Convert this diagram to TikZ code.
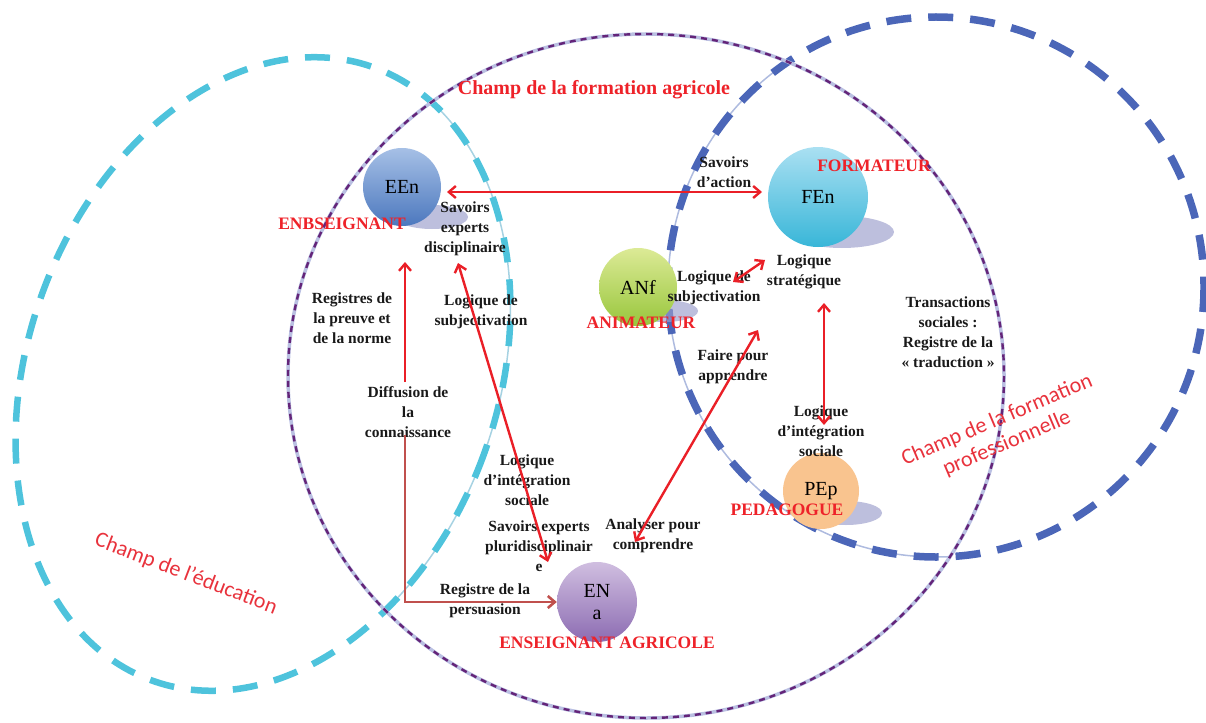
\documentclass[tikz,border=0pt]{standalone}
\usepackage{fontspec}
\setmainfont{Liberation Serif}
\newfontfamily\fieldfont{Carlito}
\usetikzlibrary{arrows.meta}

\definecolor{eduCyan}{HTML}{4EC3DC}
\definecolor{eduLine}{HTML}{A6D2E2}
\definecolor{proBlue}{HTML}{4B66B8}
\definecolor{proLine}{HTML}{AEBBDF}
\definecolor{agriPurple}{HTML}{642479}
\definecolor{agriHalo}{HTML}{BAC0E2}
\definecolor{arrowRed}{HTML}{EA1F27}
\definecolor{elbowRed}{HTML}{C0504D}
\definecolor{roleRed}{HTML}{EE2229}
\definecolor{fieldRed}{HTML}{E8323C}
\definecolor{shadowLav}{HTML}{9A9DCB}

\tikzset{
  sphere/.style={circle, inner sep=0pt, text=black, align=center,
    font=\fontsize{20}{22}\selectfont},
  glow/.style={fill=shadowLav, opacity=0.65},
  role/.style={text=roleRed, inner sep=0pt, font=\bfseries\fontsize{17.5}{20}\selectfont},
  note/.style={align=center, inner sep=0pt, text=black!90,
    font=\bfseries\fontsize{15.5}{20}\selectfont},
  field/.style={text=fieldRed, align=center, inner sep=0pt,
    font=\fieldfont\fontsize{22}{25}\selectfont},
  barb/.tip={Straight Barb[length=7pt,width=12pt]},
  link/.style={draw=arrowRed, line width=2.4pt},
  twoway/.style={link, barb-barb},
  oneway/.style={link, -barb},
  eduRing/.style={rotate around={-20:(263,374)}},
}

\begin{document}
\begin{tikzpicture}[x=1pt,y=-1pt]
\useasboundingbox (0,0) rectangle (1206,722);

% --- thin guide lines of the two outer fields, visible inside the agricultural field
\begin{scope}
  \clip (646,376) ellipse [x radius=358, y radius=342];
  \draw[eduLine, line width=1.5pt, eduRing] (263,374) ellipse [x radius=235, y radius=326];
  \draw[proLine, line width=1.5pt] (936,287) ellipse [x radius=268, y radius=270];
\end{scope}

% --- field of education (tilted cyan ellipse)
\draw[eduCyan, line width=6.5pt, dash pattern=on 25pt off 17pt, eduRing]
  (263,374) ellipse [x radius=235, y radius=326];

% --- field of vocational training (blue circle)
\draw[proBlue, line width=7.5pt, dash pattern=on 25pt off 17pt]
  (936,287) ellipse [x radius=268, y radius=270];

% --- field of agricultural training (purple dotted)
\draw[agriHalo, line width=3.5pt] (646,376) ellipse [x radius=358, y radius=342];
\draw[agriPurple, line width=2.4pt, dash pattern=on 6pt off 5pt]
  (646,376) ellipse [x radius=358, y radius=342];

% --- field titles
\node[text=roleRed, inner sep=0pt, font=\bfseries\fontsize{20}{24}\selectfont]
  (agriTitle) at (594,90) {Champ de la formation agricole};
\node[field, rotate=-21] (eduTitle) at (186,574) {Champ de l’éducation};
\node[field, rotate=23] (proTitle) at (1002,432) {Champ de la formation\\professionnelle};

% --- soft shadows under the spheres
\fill[glow] (432,217) ellipse [x radius=36, y radius=12];
\fill[glow] (842,232) ellipse [x radius=52, y radius=16];
\fill[glow] (664,311) ellipse [x radius=34, y radius=11];
\fill[glow] (846,513) ellipse [x radius=36, y radius=12];

% --- actors
\node[sphere, minimum size=78pt, top color={rgb,255:red,166;green,192;blue,230},
  bottom color={rgb,255:red,76;green,120;blue,190}] (EEn) at (402,187) {EEn};
\node[sphere, minimum size=100pt, top color={rgb,255:red,170;green,224;blue,242},
  bottom color={rgb,255:red,56;green,182;blue,216}] (FEn) at (818,197) {FEn};
\node[sphere, minimum size=78pt, top color={rgb,255:red,220;green,234;blue,150},
  bottom color={rgb,255:red,152;green,198;blue,60}] (ANf) at (638,287) {ANf};
\node[sphere, minimum size=76pt, fill={rgb,255:red,249;green,196;blue,143}] (PEp) at (821,491) {PEp};
\node[sphere, minimum size=80pt, top color={rgb,255:red,208;green,190;blue,224},
  bottom color={rgb,255:red,140;green,108;blue,178}] (ENa) at (597,602) {EN\\a};

% --- role names
\node[role] (rEEn) at (342,224) {ENBSEIGNANT};
\node[role] (rFEn) at (874,166) {FORMATEUR};
\node[role] (rANf) at (641,323) {ANIMATEUR};
\node[role] (rPEp) at (787,510) {PEDAGOGUE};
\node[role] (rENa) at (607,643) {ENSEIGNANT AGRICOLE};

% --- relation labels
\node[note] (disc)  at (465,229) {Savoirs\\experts\\disciplinaire};
\node[note] (preuve) at (352,318) {Registres de\\la preuve et\\de la norme};
\node[note] (subjL) at (481,312) {Logique de\\subjectivation};
\node[note] (action) at (724,172) {Savoirs\\d’action};
\node[note] (subjR) at (714,288) {Logique de\\subjectivation};
\node[note] (strat) at (804,272) {Logique\\stratégique};
\node[note] (trans) at (948,332) {Transactions\\sociales :\\Registre de la\\« traduction »};
\node[note] (faire) at (733,367) {Faire pour\\apprendre};
\node[note] (integR) at (821,431) {Logique\\d’intégration\\sociale};
\node[note] (diff) at (408,412) {Diffusion de\\la\\connaissance};
\node[note] (integL) at (527,480) {Logique\\d’intégration\\sociale};
\node[note] (pluri) at (539,546) {Savoirs experts\\pluridisciplinair\\e};
\node[note] (analy) at (653,536) {Analyser pour\\comprendre};
\node[note] (persu) at (485,601) {Registre de la\\persuasion};

% --- arrow end points
\coordinate (eenTip) at (447,192);
\coordinate (fenTip) at (762,192);
\coordinate (diffUp) at (405,382);
\coordinate (eenBase) at (405,262);
\coordinate (diffDown) at (405,435);
\coordinate (corner) at (405,602);
\coordinate (discTip) at (458,263);
\coordinate (pluriTip) at (548,562);
\coordinate (analyTip) at (635,542);
\coordinate (faireTip) at (758,330);
\coordinate (subjTip) at (733,282);
\coordinate (stratTip) at (765,260);
\coordinate (stratBase) at (824,303);
\coordinate (integTip) at (824,425);

% --- relations
\draw[twoway] (eenTip) -- (fenTip);
\draw[oneway] (diffUp) -- (eenBase);
\draw[draw=elbowRed, line width=2.6pt, -barb] (diffDown) -- (corner) -- (ENa.west);
\draw[twoway] (discTip) -- (pluriTip);
\draw[twoway] (analyTip) -- (faireTip);
\draw[twoway] (subjTip) -- (stratTip);
\draw[twoway] (stratBase) -- (integTip);
\end{tikzpicture}
\end{document}
